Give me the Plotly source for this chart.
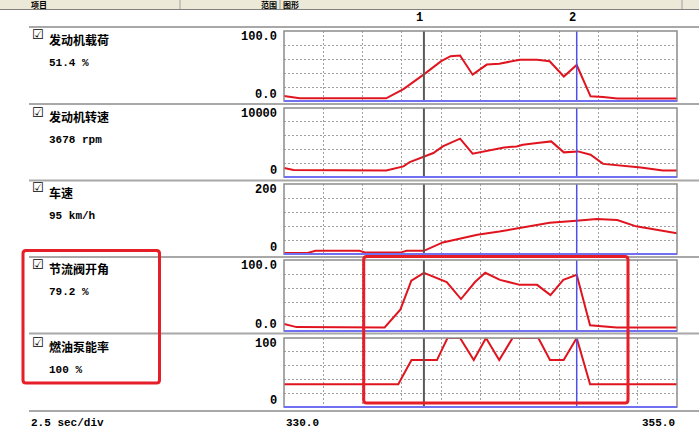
import plotly.graph_objects as go

# ---------------- data ----------------
row_labels = ["发动机载荷", "发动机转速", "车速", "节流阀开角", "燃油泵能率"]
row_values = ["51.4 %", "3678 rpm", "95 km/h", "79.2 %", "100 %"]
range_top = ["100.0", "10000", "200", "100.0", "100"]
range_bottom = ["0.0", "0", "0", "0.0", "0"]
y_max = [100, 10000, 200, 100, 100]

time_range = [330.0, 355.0]
time_labels = ["330.0", "355.0"]
time_div = 2.5
scale_text = "2.5 sec/div"
cursor_times = [338.9, 348.62]
cursor_labels = ["1", "2"]

t_load = [330.0, 331.0, 336.5, 337.6, 338.9, 340.0, 340.6, 341.2, 342.0, 342.9,
          343.7, 345.0, 346.1, 346.9, 347.8, 348.62, 349.5, 350.3, 351.2, 355.0]
v_load = [7.0, 3.8, 3.8, 17.0, 38.0, 57.0, 64.0, 65.0, 37.6, 52.0,
          53.3, 59.0, 59.0, 56.7, 35.0, 51.4, 6.7, 5.7, 3.5, 3.5]

t_rpm = [330.0, 330.6, 336.5, 337.6, 338.0, 338.9, 339.5, 340.1, 341.2, 342.0, 342.9, 344.0,
         344.8, 345.2, 346.1, 347.0, 347.8, 348.7, 349.5, 350.3, 352.7, 354.1, 355.0]
v_rpm = [1300, 1000, 950, 1540, 2170, 2900, 3480, 4430, 5550, 3380, 3810, 4290,
         4430, 4680, 4930, 5160, 3570, 3710, 3230, 1900, 1390, 960, 960]

t_speed = [330.0, 331.5, 332.0, 334.8, 335.2, 337.4, 337.8, 338.9, 340.1, 342.3,
           343.7, 345.2, 346.9, 348.6, 349.9, 351.2, 352.4, 355.0]
v_speed = [3, 3, 9, 9, 4, 4, 9, 9, 33, 55,
           64, 75, 89, 95, 100, 97, 79, 59]

t_throttle = [330.0, 330.8, 336.4, 337.4, 338.1, 338.9, 340.35, 341.26, 342.15, 342.8,
              343.74, 345.0, 346.1, 346.95, 347.77, 348.62, 349.47, 351.16, 355.0]
v_throttle = [10, 5.5, 5, 30, 71, 82, 69, 45, 69, 82,
              72, 65, 65, 50.5, 72, 79.2, 8, 5, 5]

t_pump = [330.0, 337.27, 338.11, 339.73, 340.4, 341.2, 342.07, 342.85, 343.69, 344.54,
          346.18, 346.92, 347.79, 348.62, 349.47, 355.0]
v_pump = [33, 33, 68, 68, 100, 100, 68, 100, 68, 100,
          100, 68, 68, 100, 33, 33]

series_t = [t_load, t_rpm, t_speed, t_throttle, t_pump]
series_v = [v_load, v_rpm, v_speed, v_throttle, v_pump]

# ---------------- layout geometry (pixels) ----------------
W, H = 699, 431
L, R, T, B = 284, 22, 31, 24
PW = W - L - R
PH = H - T - B


def px(x):
    return (x - L) / PW


def py(y):
    return (H - B - y) / PH


panel_tops = [31, 108, 184, 260, 338]
panel_bottoms = [101, 177, 254, 331, 407]
row_lines = [27, 104, 180.5, 257, 333.5, 411]

RED = "#E0141E"
GRID = "#A0A0A0"
BORDER = "#8C8C8C"
BLUE = "#7070F0"
CJK = "Noto Sans CJK SC"
MONO = "Liberation Mono"

fig = go.Figure()
shapes = []
annotations = []

# header
shapes.append(dict(type="rect", xref="paper", yref="paper", x0=px(0), x1=px(W), y0=py(0), y1=py(9),
                   fillcolor="#ECE9D8", line=dict(width=0), layer="below"))
shapes.append(dict(type="line", xref="paper", yref="paper", x0=px(0), x1=px(W), y0=py(9.5), y1=py(9.5),
                   line=dict(color="#808080", width=1)))
for sx in [180, 280, 682]:
    shapes.append(dict(type="line", xref="paper", yref="paper", x0=px(sx), x1=px(sx), y0=py(0), y1=py(9),
                       line=dict(color="#A0A0A0", width=1)))
for txt, hx, anchor in [("项目", 30, "left"), ("范围", 278, "right"), ("图形", 282, "left")]:
    annotations.append(dict(text="<b>" + txt + "</b>", xref="paper", yref="paper", x=px(hx), y=py(4.5),
                            xanchor=anchor, yanchor="middle", showarrow=False, borderpad=0,
                            font=dict(family=CJK, size=8, color="black")))

# row separators
for ly in row_lines:
    shapes.append(dict(type="line", xref="paper", yref="paper", x0=px(29), x1=px(W), y0=py(ly), y1=py(ly),
                       line=dict(color="#A8A8A8", width=2), layer="below"))

layout_axes = {}
for i in range(5):
    n = "" if i == 0 else str(i + 1)
    xa = "xaxis" + n
    ya = "yaxis" + n
    layout_axes[xa] = dict(domain=[0, 1], anchor="y" + n, range=time_range,
                           tick0=time_range[0], dtick=time_div,
                           showgrid=True, gridcolor=GRID, gridwidth=1, griddash="2px,2px",
                           showticklabels=False, ticks="", zeroline=False, showline=False,
                           fixedrange=True)
    if i > 0:
        layout_axes[xa]["matches"] = "x"
    layout_axes[ya] = dict(domain=[py(panel_bottoms[i]), py(panel_tops[i])], anchor="x" + n,
                           range=[0, y_max[i]], dtick=y_max[i] / 5,
                           showgrid=True, gridcolor=GRID, gridwidth=1, griddash="2px,2px",
                           showticklabels=False, ticks="", zeroline=False, showline=False,
                           fixedrange=True)

    fig.add_trace(go.Scatter(x=series_t[i], y=series_v[i], mode="lines",
                             line=dict(color=RED, width=2),
                             xaxis="x" + n, yaxis="y" + n,
                             showlegend=False, hoverinfo="skip"))

    xd = ("x" + n) + " domain"
    yd = ("y" + n) + " domain"
    # cursors
    shapes.append(dict(type="line", xref="x" + n, yref=yd, x0=cursor_times[0], x1=cursor_times[0],
                       y0=0, y1=1, line=dict(color="#5A5A5A", width=2)))
    shapes.append(dict(type="line", xref="x" + n, yref=yd, x0=cursor_times[1], x1=cursor_times[1],
                       y0=0, y1=1, line=dict(color="#5050E8", width=1.5)))
    # border
    shapes.append(dict(type="rect", xref=xd, yref=yd, x0=0, x1=1, y0=0, y1=1,
                       line=dict(color=BORDER, width=1.5)))
    shapes.append(dict(type="line", xref=xd, yref=yd, x0=0, x1=1, y0=0, y1=0,
                       line=dict(color=BLUE, width=2)))

    top = panel_tops[i]
    bot = panel_bottoms[i]
    annotations.append(dict(text="<b>☑</b>", xref="paper", yref="paper", x=px(38), y=py(top + 4),
                            xanchor="center", yanchor="middle", showarrow=False,
                            font=dict(family="DejaVu Sans", size=13, color="black")))
    annotations.append(dict(text="<b>" + row_labels[i] + "</b>", xref="paper", yref="paper",
                            x=px(47), y=py(top + 8), xanchor="left", yanchor="middle", showarrow=False,
                            font=dict(family=CJK, size=12, color="black")))
    annotations.append(dict(text="<b>" + row_values[i] + "</b>", xref="paper", yref="paper",
                            x=px(47), y=py(top + 32), xanchor="left", yanchor="middle", showarrow=False,
                            font=dict(family=MONO, size=11, color="black")))
    annotations.append(dict(text="<b>" + range_top[i] + "</b>", xref="paper", yref="paper",
                            x=px(279), y=py(top + 6), xanchor="right", yanchor="middle", showarrow=False,
                            font=dict(family=MONO, size=12, color="black")))
    annotations.append(dict(text="<b>" + range_bottom[i] + "</b>", xref="paper", yref="paper",
                            x=px(279), y=py(bot - 6), xanchor="right", yanchor="middle", showarrow=False,
                            font=dict(family=MONO, size=12, color="black")))

# cursor labels
for ct, cl in zip(cursor_times, cursor_labels):
    annotations.append(dict(text="<b>" + cl + "</b>", xref="x", yref="paper", x=ct, y=py(18),
                            xshift=-4, xanchor="center", yanchor="middle", showarrow=False,
                            font=dict(family=MONO, size=12, color="black")))

# bottom texts
annotations.append(dict(text="<b>" + scale_text + "</b>", xref="paper", yref="paper", x=px(29), y=py(423),
                        xanchor="left", yanchor="middle", showarrow=False,
                        font=dict(family=MONO, size=11, color="black")))
annotations.append(dict(text="<b>" + time_labels[0] + "</b>", xref="x", yref="paper", x=time_range[0],
                        y=py(423), xanchor="left", yanchor="middle", showarrow=False,
                        font=dict(family=MONO, size=11, color="black")))
annotations.append(dict(text="<b>" + time_labels[1] + "</b>", xref="x", yref="paper", x=time_range[1],
                        y=py(423), xanchor="right", yanchor="middle", showarrow=False,
                        font=dict(family=MONO, size=11, color="black")))


# red highlight boxes (rounded)
def rrect(x0, y0, x1, y1, r):
    return (f"M {px(x0 + r)},{py(y0)} L {px(x1 - r)},{py(y0)} Q {px(x1)},{py(y0)} {px(x1)},{py(y0 + r)} "
            f"L {px(x1)},{py(y1 - r)} Q {px(x1)},{py(y1)} {px(x1 - r)},{py(y1)} "
            f"L {px(x0 + r)},{py(y1)} Q {px(x0)},{py(y1)} {px(x0)},{py(y1 - r)} "
            f"L {px(x0)},{py(y0 + r)} Q {px(x0)},{py(y0)} {px(x0 + r)},{py(y0)} Z")


HL = "#E61E28"
shapes.append(dict(type="path", xref="paper", yref="paper", path=rrect(23, 250.5, 159.5, 383, 3),
                   line=dict(color=HL, width=3)))
shapes.append(dict(type="path", xref="paper", yref="paper", path=rrect(363.7, 256.5, 628, 403, 3),
                   line=dict(color=HL, width=3)))

fig.update_layout(
    width=W, height=H,
    margin=dict(l=L, r=R, t=T, b=B, pad=0),
    paper_bgcolor="white", plot_bgcolor="white",
    showlegend=False,
    shapes=shapes, annotations=annotations,
    **layout_axes,
)

fig.write_html("out.html", config={"displayModeBar": False},
               post_script="document.body.style.margin='0';")
